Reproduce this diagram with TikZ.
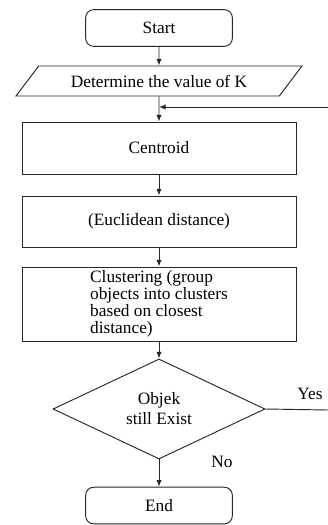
\documentclass[tikz,border=0pt]{standalone}
\usepackage{fontspec}
\setmainfont{Liberation Serif}
\usetikzlibrary{shapes,arrows,arrows.meta}
\tikzstyle{terminal} = [rectangle, draw, rounded corners=6pt,
    minimum width=110pt, minimum height=27.5pt]
\tikzstyle{io} = [trapezium, draw, trapezium left angle=28.6,
    trapezium right angle=151.4, trapezium stretches body,
    minimum width=214.5pt, minimum height=22.5pt, inner sep=0pt]
\tikzstyle{block} = [rectangle, draw, minimum width=205.5pt]
\tikzstyle{decision} = [diamond, draw, aspect=2.12, minimum width=159pt,
    minimum height=75pt, inner sep=0pt, align=center]
\tikzstyle{line} = [draw, -{Latex[length=5pt,width=4pt]}]

\begin{document}
\begin{tikzpicture} [font=\fontsize{13}{15}\selectfont, draw=black!85, line width=0.7pt]
    \useasboundingbox (-119.25pt,21pt) rectangle (126.75pt,-372.75pt);
    % Nodes
    \node [terminal] (start) {Start};
    \node [io, below of=start, node distance=39.75pt] (kvalue) {Determine the value of K};
    \node [block, below of=kvalue, node distance=50.25pt, minimum height=39pt] (centroid) {Centroid};
    \node [block, below of=centroid, node distance=55.1pt, minimum height=38.25pt] (distance) {(Euclidean distance)};
    \node [block, below of=distance, node distance=61.9pt, minimum height=55.5pt,
        align=left, inner sep=1pt, font=\fontsize{13}{12.6}\selectfont] (cluster)
        {Clustering (group\\objects into clusters\\based on closest\\distance)};
    \node [decision, below of=cluster, node distance=78.75pt] (check) {Objek\\still Exist};
    \node [terminal, below of=check, node distance=72.4pt] (stop) {End};
    \coordinate (join) at (0,-59.25pt);
    \coordinate (loopin) at (126.75pt,-59.25pt);
    \coordinate (yesout) at (126.75pt,-286.5pt);
    % Labels
    \node (yes) at (113.25pt,-274.5pt) {Yes};
    \node (no) at (47.25pt,-325.5pt) {No};
    % Paths
    \path [line] (start) -- (kvalue);
    \path [line] (kvalue) -- (centroid);
    \path [line] (loopin) -- (join);
    \path [line] (centroid) -- (distance);
    \path [line] (distance) -- (cluster);
    \path [line] (cluster) -- (check);
    \path [line] (check) -- (stop);
    \draw (check.east) -- (yesout);
\end{tikzpicture}
\end{document}
